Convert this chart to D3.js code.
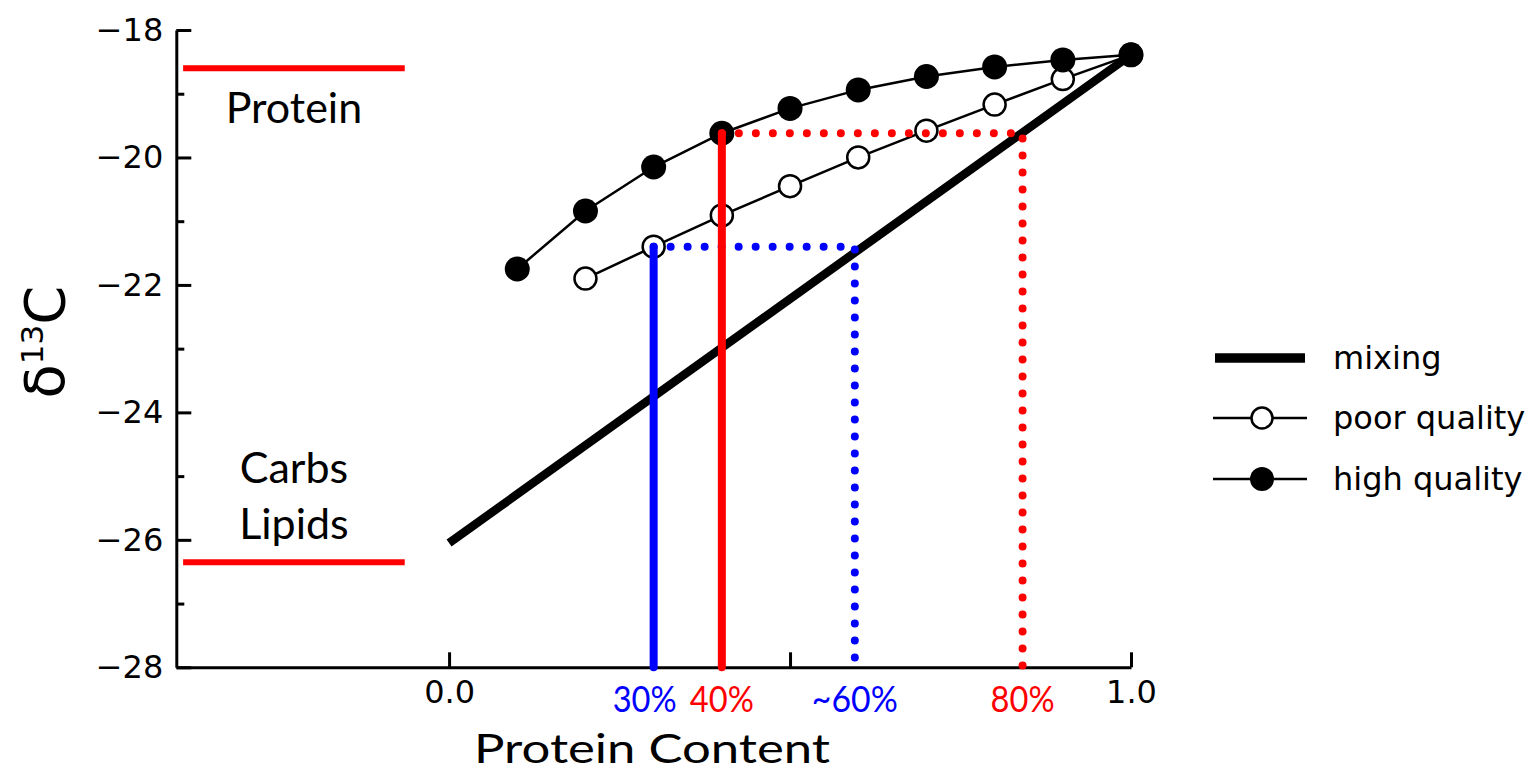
<!DOCTYPE html>
<html>
<head>
<meta charset="utf-8">
<script src="https://cdn.jsdelivr.net/npm/d3@7"></script>
<style>
  body { margin: 0; background: #fff; }
  .axis path, .axis line { stroke: #000; stroke-width: 3; }
  .axis text { font-family: "DejaVu Sans", sans-serif; font-size: 32px; fill: #000; }
</style>
</head>
<body>
<div id="chart"></div>
<script>
// protein fraction of the diet (x) and d13C of the consumer (y)
var highX = [0.1, 0.2, 0.3, 0.4, 0.5, 0.6, 0.7, 0.8, 0.9, 1.0];
var highQuality = [-21.75, -20.84, -20.15, -19.62, -19.23, -18.94, -18.73, -18.58, -18.47, -18.39];
var poorX = [0.2, 0.3, 0.4, 0.5, 0.6, 0.7, 0.8, 0.9, 1.0];
var poorQuality = [-21.9, -21.4, -20.91, -20.45, -20.0, -19.58, -19.17, -18.77, -18.39];
var mixingX = [0, 1];
var mixingY = [-26.05, -18.39];

// diet source values (red bars on the left)
var sourceLabels = [["Protein"], ["Carbs", "Lipids"]];
var sourceValues = [-18.6, -26.35];
var sourceSpan = [-0.39, -0.065];

// read-off guides: from a curve point across to the mixing line
var guideColors = ["#0000ff", "#ff0000"];
var guideFrom = [0.3, 0.4];
var guideTo = [0.595, 0.841];
var guideLevel = [-21.4, -19.62];
var guideLabels = [["30%", "~60%"], ["40%", "80%"]];

var yMajor = [-28, -26, -24, -22, -20, -18];
var yMinor = [-27, -25, -23, -21, -19];
var xTicks = [0, 0.5, 1];

var svgWidth = 1538, svgHeight = 772;

var svg = d3.select("#chart").append("svg")
    .attr("width", svgWidth)
    .attr("height", svgHeight);

var x = d3.scaleLinear().domain([-0.4, 1.0]).range([176.3, 1131]);
var y = d3.scaleLinear().domain([-28, -18]).range([667.3, 30]);

// axes, ticks pointing inward
svg.append("g")
    .attr("class", "axis")
    .attr("transform", "translate(" + x(-0.4) + ",0)")
    .call(d3.axisLeft(y).tickValues(yMinor).tickSizeInner(-8).tickSizeOuter(0).tickFormat(""))
    .select(".domain").remove();

svg.append("g")
    .attr("class", "axis")
    .attr("transform", "translate(" + x(-0.4) + ",0)")
    .call(d3.axisLeft(y).tickValues(yMajor).tickSizeInner(-15).tickSizeOuter(0).tickPadding(13).tickFormat(d3.format("d")));

svg.append("g")
    .attr("class", "axis")
    .attr("transform", "translate(0," + y(-28) + ")")
    .call(d3.axisBottom(x).tickValues(xTicks).tickSizeInner(-15).tickSizeOuter(0).tickPadding(13)
        .tickFormat(d => d === 0.5 ? "" : d3.format(".1f")(d)));

// y label
var yl = svg.append("text")
    .attr("transform", "translate(64,342) rotate(-90)")
    .attr("text-anchor", "middle")
    .style("font-family", "DejaVu Sans, sans-serif")
    .style("font-size", "56px");
yl.append("tspan").text("δ");
yl.append("tspan").attr("dy", -21).style("font-size", "31px").text("13");
yl.append("tspan").attr("dy", 21).text("C");

// x label
svg.append("text")
    .attr("x", 474)
    .attr("y", 763)
    .attr("textLength", 356)
    .attr("lengthAdjust", "spacingAndGlyphs")
    .style("font-family", "Lato, sans-serif")
    .style("font-size", "41px")
    .text("Protein Content");

// source bars + labels
sourceValues.forEach(function (v, i) {
    svg.append("line")
        .attr("x1", x(sourceSpan[0])).attr("x2", x(sourceSpan[1]))
        .attr("y1", y(v)).attr("y2", y(v))
        .attr("stroke", "#ff0000").attr("stroke-width", 6);
    var lines = sourceLabels[i];
    lines.forEach(function (t, j) {
        var base = i === 0 ? y(v) + 55 : y(v) - 23 - (lines.length - 1 - j) * 56;
        svg.append("text")
            .attr("x", x((sourceSpan[0] + sourceSpan[1]) / 2))
            .attr("y", base)
            .attr("text-anchor", "middle")
            .style("font-family", "Lato, sans-serif")
            .style("font-size", "43px")
            .text(t);
    });
});

var line = d3.line().x(d => x(d[0])).y(d => y(d[1]));

// mixing line
svg.append("path")
    .datum(d3.zip(mixingX, mixingY))
    .attr("d", line)
    .attr("fill", "none")
    .attr("stroke", "#000")
    .attr("stroke-width", 8.5);

// curves
var poor = d3.zip(poorX, poorQuality);
var high = d3.zip(highX, highQuality);

[poor, high].forEach(function (data) {
    svg.append("path")
        .datum(data)
        .attr("d", line)
        .attr("fill", "none")
        .attr("stroke", "#000")
        .attr("stroke-width", 2.5);
});

svg.selectAll(".poor")
    .data(poor)
    .enter().append("circle")
    .attr("class", "poor")
    .attr("cx", d => x(d[0]))
    .attr("cy", d => y(d[1]))
    .attr("r", 11)
    .attr("fill", "#fff")
    .attr("stroke", "#000")
    .attr("stroke-width", 2.5);

svg.selectAll(".high")
    .data(high)
    .enter().append("circle")
    .attr("class", "high")
    .attr("cx", d => x(d[0]))
    .attr("cy", d => y(d[1]))
    .attr("r", 12.5)
    .attr("fill", "#000");

// guides
var labelShift = [[-9, 0], [0, 0]];
guideColors.forEach(function (c, i) {
    svg.append("line")
        .attr("x1", x(guideFrom[i])).attr("x2", x(guideFrom[i]))
        .attr("y1", y(guideLevel[i])).attr("y2", y(-28))
        .attr("stroke", c).attr("stroke-width", 8).attr("stroke-linecap", "round");
    svg.append("path")
        .attr("d", "M" + x(guideFrom[i]) + "," + y(guideLevel[i]) +
                   "H" + x(guideTo[i]) + "V" + y(-28))
        .attr("fill", "none")
        .attr("stroke", c).attr("stroke-width", 8)
        .attr("stroke-linecap", "round")
        .attr("stroke-dasharray", "0 17");
    [guideFrom[i], guideTo[i]].forEach(function (v, k) {
        var t = guideLabels[i][k];
        svg.append("text")
            .attr("x", x(v) + labelShift[i][k])
            .attr("y", 712)
            .attr("text-anchor", "middle")
            .attr("fill", c)
            .attr("textLength", t.length > 3 ? 86 : 64)
            .attr("lengthAdjust", "spacingAndGlyphs")
            .style("font-family", "Lato, sans-serif")
            .style("font-size", "37px")
            .text(t);
    });
});

// legend
var legendItems = ["mixing", "poor quality", "high quality"];
var legendY = [358, 418, 479];
legendItems.forEach(function (name, i) {
    var g = svg.append("g").attr("transform", "translate(0," + legendY[i] + ")");
    if (i === 0) {
        g.append("line").attr("x1", 1215).attr("x2", 1305)
            .attr("stroke", "#000").attr("stroke-width", 9.5);
    } else {
        g.append("line").attr("x1", 1213).attr("x2", 1307)
            .attr("stroke", "#000").attr("stroke-width", 2.5);
        g.append("circle").attr("cx", 1262).attr("r", i === 1 ? 10.5 : 12)
            .attr("fill", i === 1 ? "#fff" : "#000")
            .attr("stroke", "#000").attr("stroke-width", i === 1 ? 2.5 : 0);
    }
    g.append("text")
        .attr("x", 1333)
        .attr("y", 11)
        .style("font-family", "DejaVu Sans, sans-serif")
        .style("font-size", "32px")
        .text(name);
});
</script>
</body>
</html>
